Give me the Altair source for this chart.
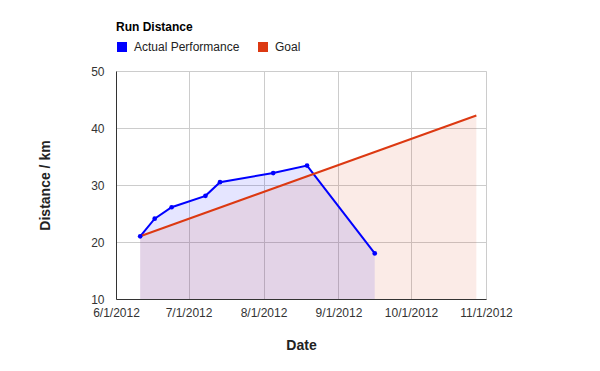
import altair as alt
import pandas as pd

# Data
actual_dates = ["2012-06-11", "2012-06-17", "2012-06-24", "2012-07-08",
                "2012-07-14", "2012-08-05", "2012-08-19", "2012-09-16"]
actual_km = [21.0, 24.1, 26.1, 28.1, 30.5, 32.1, 33.4, 18.0]

goal_dates = ["2012-06-11", "2012-10-28"]
goal_km = [21.0, 42.2]

series_names = ["Actual Performance", "Goal"]
series_colors = ["#0000FF", "#DC3912"]

tick_dates = ["2012-06-01", "2012-07-01", "2012-08-01", "2012-09-01",
              "2012-10-01", "2012-11-01"]
y_ticks = [10, 20, 30, 40, 50]

df = pd.concat([
    pd.DataFrame({"date": actual_dates, "km": actual_km, "series": series_names[0]}),
    pd.DataFrame({"date": goal_dates, "km": goal_km, "series": series_names[1]}),
], ignore_index=True)


def dt(s):
    y, m, d = (int(p) for p in s.split("-"))
    return alt.DateTime(year=y, month=m, date=d, utc=True)


FONT = "Liberation Sans"

x_enc = alt.X(
    "utcyearmonthdate(date):T",
    scale=alt.Scale(domain=[dt(tick_dates[0]), dt(tick_dates[-1])], nice=False),
    axis=alt.Axis(
        title="Date",
        values=[dt(t) for t in tick_dates],
        format="%-m/%-d/%Y",
        grid=True,
        gridColor="#cccccc",
        tickSize=0,
        labelPadding=8,
        labelFontSize=12,
        labelColor="#333333",
        labelFont=FONT,
        labelOverlap=False,
        labelFlush=False,
        domainColor="#333333",
        titleFont=FONT,
        titleFontSize=14,
        titleFontWeight="bold",
        titleColor="#222222",
        titlePadding=20,
    ),
)

y_enc = alt.Y(
    "km:Q",
    stack=None,
    scale=alt.Scale(domain=[10, 50], nice=False, zero=False),
    axis=alt.Axis(
        title="Distance / km",
        values=y_ticks,
        grid=True,
        gridColor="#cccccc",
        tickSize=0,
        labelPadding=12,
        labelFontSize=12,
        labelColor="#333333",
        labelFont=FONT,
        domainColor="#333333",
        titleFont=FONT,
        titleFontSize=14,
        titleFontWeight="bold",
        titleColor="#222222",
        titlePadding=38,
    ),
)

color_scale = alt.Scale(domain=series_names, range=series_colors)

legend = alt.Legend(
    title="Run Distance",
    orient="none",
    legendX=0,
    legendY=-49,
    direction="horizontal",
    titleOrient="top",
    titleFont=FONT,
    titleFontSize=12,
    titleFontWeight="bold",
    titleColor="#000000",
    titlePadding=7,
    labelFont=FONT,
    labelFontSize=12,
    labelColor="#222222",
    symbolType="square",
    symbolSize=100,
    symbolStrokeWidth=0,
    symbolOpacity=1,
    columnPadding=17,
    labelOffset=6,
)

color_enc = alt.Color("series:N", scale=color_scale, legend=legend)

base = alt.Chart(df)

areas = base.mark_area(opacity=0.1, line=False, clip=True).encode(
    x=x_enc, y=y_enc, y2=alt.datum(10),
    color=color_enc,
)

lines = base.mark_line(strokeWidth=2).encode(
    x=x_enc, y=y_enc,
    color=color_enc,
)

points = base.transform_filter(alt.datum.series == series_names[0]).mark_circle(
    size=22, opacity=1, color="#0000FF"
).encode(x=x_enc, y=y_enc)

chart = alt.layer(areas, lines, points).properties(
    width=370,
    height=228,
    autosize=alt.AutoSizeParams(type="none"),
    padding={"left": 108, "top": 63, "right": 106, "bottom": 64},
).configure_view(
    stroke=None
).configure_axis(
    gridWidth=1,
).configure(font=FONT)

chart.save("out.html", embed_options={"renderer": "svg", "actions": False})
